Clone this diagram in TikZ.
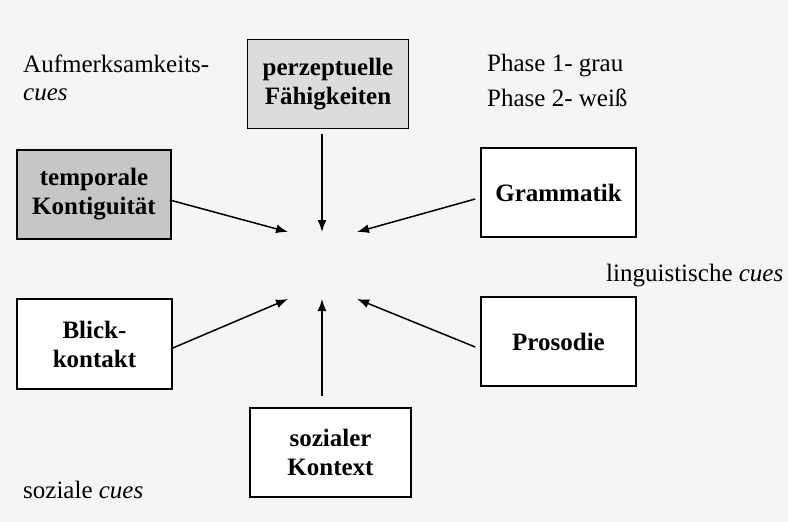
\documentclass[tikz,border=0pt]{standalone}
\usepackage{fontspec}
\setmainfont{Liberation Serif}
\usetikzlibrary{arrows.meta}
\definecolor{scanbg}{RGB}{245,245,245}
\definecolor{phaseone}{RGB}{198,198,198}
\definecolor{phaseonelight}{RGB}{220,220,220}

\begin{document}
\begin{tikzpicture}[
  x=1pt, y=-1pt,
  cue/.style={font=\fontsize{25}{29}\selectfont, anchor=base west, inner sep=0pt},
  box/.style={draw, line width=1.6pt, fill=white, align=center, inner sep=0pt,
    minimum width=155pt, minimum height=89pt,
    font=\fontsize{25}{29}\selectfont\bfseries},
  arr/.style={-{Latex[length=12pt,width=9pt]}, line width=1.5pt}
]

% Background
\fill[scanbg] (0,0) rectangle (788,522);
\useasboundingbox (0,0) rectangle (788,522);

% Labels
\node[cue] (aufm) at (23,72) {Aufmerksamkeits-};
\node[cue] (aufmcues) at (23,100) {\itshape cues};
\node[cue] (phase1) at (487,71) {Phase 1- grau};
\node[cue] (phase2) at (487,106) {Phase 2- weiß};
\node[cue] (lingcues) at (606,281) {linguistische \textit{cues}};
\node[cue] (sozcues) at (23,498) {soziale \textit{cues}};

% Boxes
\node[box, fill=phaseonelight, minimum width=161pt] (perz) at (328,84) {perzeptuelle\\Fähigkeiten};
\node[box, fill=phaseone, minimum width=154pt] (temp) at (94,194.5) {temporale\\Kontiguität};
\node[box] (gram) at (558.5,192.5) {Grammatik};
\node[box, minimum height=90pt] (blick) at (94.5,344) {Blick-\\kontakt};
\node[box] (pros) at (558.5,341.5) {Prosodie};
\node[box, minimum width=161pt] (sozial) at (330.5,452.5) {sozialer\\Kontext};

% Arrow tips
\coordinate (t1) at (288,232);
\coordinate (t2) at (322,232);
\coordinate (t3) at (357,232);
\coordinate (b1) at (288,299);
\coordinate (b2) at (322,299);
\coordinate (b3) at (357,299);

% Arrows
\draw[arr] ([xshift=-6pt,yshift=-5pt]perz.south) -- (t2);
\draw[arr] ([xshift=-2pt,yshift=-5.5pt]temp.east) -- (t1);
\draw[arr] ([xshift=-5pt,yshift=-6.5pt]gram.west) -- (t3);
\draw[arr] ([yshift=-4pt]blick.east) -- (b1);
\draw[arr] ([xshift=-8.5pt,yshift=11pt]sozial.north) -- (b2);
\draw[arr] ([xshift=-5pt,yshift=-5.5pt]pros.west) -- (b3);

\end{tikzpicture}
\end{document}
